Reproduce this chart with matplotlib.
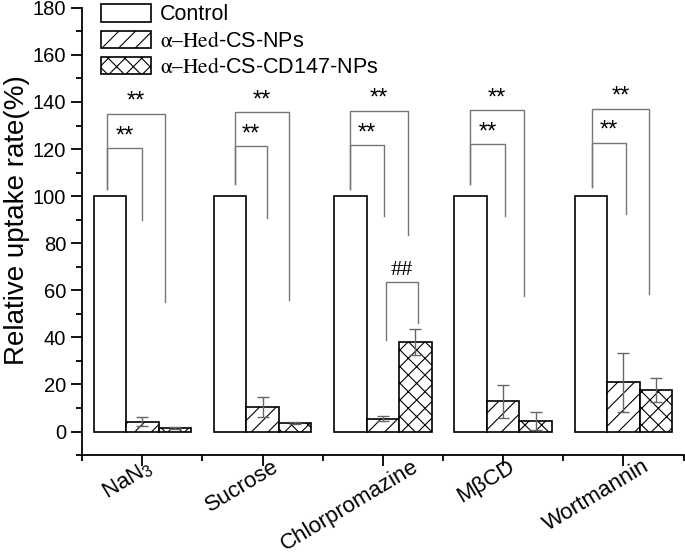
"""
relative uptake rate with inhibitors
"""
import numpy as np
import matplotlib
matplotlib.use('Agg')
import matplotlib.pyplot as plt
import matplotlib.transforms as mtransforms
from matplotlib.font_manager import FontProperties

plt.rcParams['font.family'] = ['Liberation Sans', 'DejaVu Sans']
plt.rcParams['mathtext.fontset'] = 'custom'
plt.rcParams['mathtext.rm'] = 'Liberation Sans'
plt.rcParams['mathtext.it'] = 'Liberation Sans:italic'
plt.rcParams['hatch.linewidth'] = 0.8

# data
inhibitors = ['NaN$_3$', 'Sucrose', 'Chlorpromazine', 'MβCD', 'Wortmannin']
control = [100, 100, 100, 100, 100]
hed_np = [4.2, 10.5, 5.4, 12.9, 21.0]
hed_np_err = [2.0, 4.3, 1.0, 7.0, 12.5]
cd147_np = [1.4, 3.5, 38.0, 4.4, 17.6]
cd147_np_err = [0.4, 0.4, 5.5, 3.9, 5.0]

# significance brackets (per group)
sig_left = [0.706, 1.767, 2.725, 3.72, 4.742]
sig_inner_right = [1.0, 2.033, 3.01, 4.017, 5.019]
sig_outer_right = [1.19, 2.217, 3.206, 4.169, 5.214]
sig_inner_top = [120.4, 121.3, 121.8, 122.0, 122.7]
sig_outer_top = [135.0, 135.6, 136.3, 136.5, 137.2]
sig_left_end = [103, 105, 103, 105, 104]
sig_inner_end = [90.0, 90.6, 91.5, 91.6, 92.2]
sig_outer_end = [55.0, 56.0, 83.4, 57.6, 58.6]

x = np.arange(1, len(inhibitors) + 1)
w = 0.27

fig = plt.figure(figsize=(6.85, 5.57), dpi=100)
ax = fig.add_axes([0.12, 0.183, 0.878, 0.803])

ax.bar(x - w, control, w, color='white', edgecolor='black', linewidth=1.2,
       label='Control')
ax.bar(x, hed_np, w, color='white', edgecolor='black', linewidth=1.2,
       hatch='//', label=r'$\mathrm{α–Hed}$-CS-NPs')
ax.bar(x + w, cd147_np, w, color='white', edgecolor='black', linewidth=1.2,
       hatch='xx', label=r'$\mathrm{α–Hed}$-CS-CD147-NPs')
ax.errorbar(x, hed_np, yerr=hed_np_err, fmt='none', ecolor='#666666',
            elinewidth=1.0, capsize=4, capthick=1.0)
ax.errorbar(x + w, cd147_np, yerr=cd147_np_err, fmt='none', ecolor='#666666',
            elinewidth=1.0, capsize=4, capthick=1.0)

# ** brackets
lc = '#777777'
for i in range(len(x)):
    l, ir, orr = sig_left[i], sig_inner_right[i], sig_outer_right[i]
    ax.plot([l, l, ir, ir], [sig_left_end[i], sig_inner_top[i], sig_inner_top[i], sig_inner_end[i]],
            color=lc, lw=1.0)
    ax.plot([l, l, orr, orr], [sig_left_end[i], sig_outer_top[i], sig_outer_top[i], sig_outer_end[i]],
            color=lc, lw=1.0)
    ax.text((l + ir) / 2, sig_inner_top[i] + 0.3, '**', ha='center', va='bottom', fontsize=17)
    ax.text((l + orr) / 2, sig_outer_top[i] + 0.3, '**', ha='center', va='bottom', fontsize=17)

# ## bracket for chlorpromazine
ax.plot([3.023, 3.023, 3.295, 3.295], [39, 63.5, 63.5, 46], color=lc, lw=1.0)
ax.text(3.16, 64.5, '##', ha='center', va='bottom', fontsize=16, family='Liberation Serif')

ax.set_xlim(0.5, 5.5)
ax.set_ylim(-10, 180)
ax.set_yticks(np.arange(0, 181, 20))
ax.set_yticks(np.arange(-10, 181, 10), minor=True)
ax.set_xticks(x)
ax.set_xticks(np.arange(0.5, 5.6, 1.0), minor=True)
ax.set_xticklabels([])
ax.tick_params(axis='y', labelsize=14.5)
ax.tick_params(which='major', length=8, width=1.3, direction='out')
ax.tick_params(which='minor', length=4, width=1.3, direction='out')

for s in ['top', 'right']:
    ax.spines[s].set_visible(False)
for s in ['left', 'bottom']:
    ax.spines[s].set_linewidth(1.3)

ax.set_ylabel('Relative uptake rate(%)', fontsize=20)
ax.yaxis.set_label_coords(-0.087, 0.525)

# rotated category labels, shifted right a bit more for longer names
trans = mtransforms.blended_transform_factory(ax.transData, ax.transAxes)
labels = []
for xi, name in zip(x, inhibitors):
    t = ax.text(xi, 0, name, transform=trans, rotation=31, rotation_mode='anchor',
                ha='right', va='top', fontsize=16)
    labels.append(t)
fig.canvas.draw()
r = fig.canvas.get_renderer()
for t in labels:
    bw = t.get_window_extent(r).width
    off = mtransforms.ScaledTranslation((0.3 * bw - 15) / fig.dpi, -1 / fig.dpi,
                                        fig.dpi_scale_trans)
    t.set_transform(trans + off)

leg_font = FontProperties(family='Liberation Sans', size=15.5, math_fontfamily='stix')
ax.legend(loc='upper left', bbox_to_anchor=(0.017, 1.027), frameon=False, prop=leg_font,
          handlelength=2.3, handleheight=0.85, labelspacing=0.25, handletextpad=0.45,
          borderaxespad=0)

fig.savefig('out.png', dpi=100)
